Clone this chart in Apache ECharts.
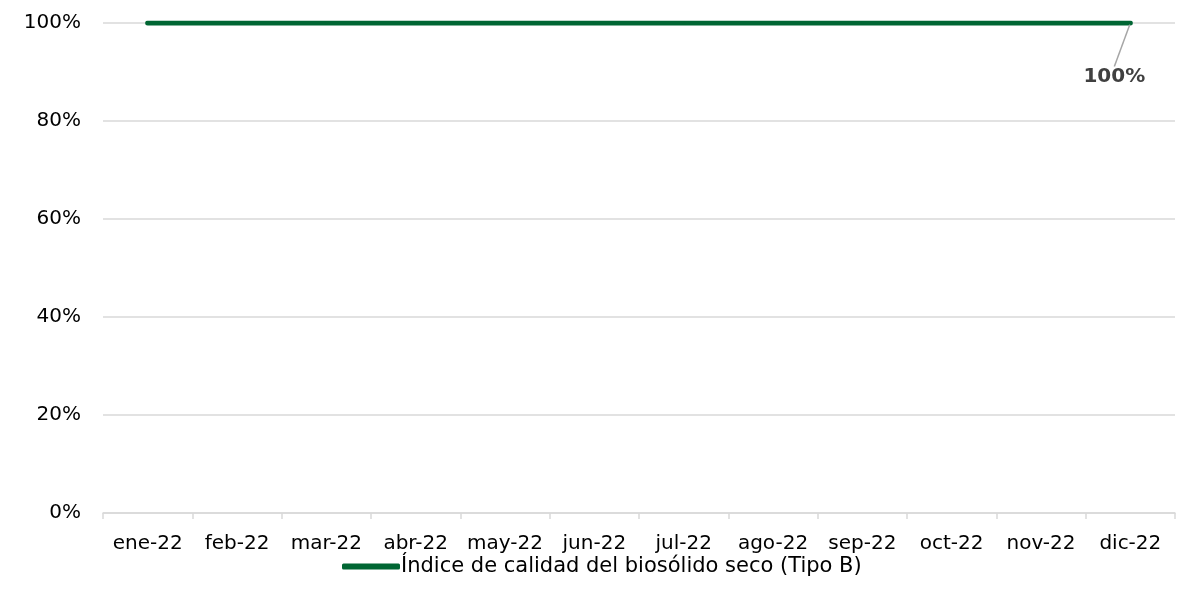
<!DOCTYPE html>
<html><head><meta charset="utf-8">
<script src="https://cdn.jsdelivr.net/npm/echarts@6/dist/echarts.min.js"></script>
<style>html,body{margin:0;padding:0;background:#fff}#c{width:1191px;height:613px}</style>
</head><body><div id="c"></div>
<script>
const categories = ['ene-22','feb-22','mar-22','abr-22','may-22','jun-22','jul-22','ago-22','sep-22','oct-22','nov-22','dic-22'];
const seriesName = 'Índice de calidad del biosólido seco (Tipo B)';
const values = [1,1,1,1,1,1,1,1,1,1,1,1];
const FONT = 'DejaVu Sans';
const chart = echarts.init(document.getElementById('c'));
const data = values.map((v,i)=> i===values.length-1 ? {
  value: v,
  label: {show:true, position:'bottom', formatter: p => Math.round(p.value*100)+'%',
          fontWeight:'bold', color:'#404040', fontSize:20, fontFamily:FONT, padding:[9,0,0,0]},
  labelLine: {show:true, lineStyle:{color:'#a6a6a6', width:1.5}}
} : v);
chart.setOption({
  animation:false,
  grid:{left:103, right:16, top:23, bottom:100, containLabel:false},
  legend:{bottom:31, left:337, itemWidth:58, itemHeight:6, itemGap:2,
    icon:'roundRect',
    textStyle:{fontFamily:FONT, fontSize:21, color:'#000', padding:[0,0,0,-4]},
    data:[seriesName]},
  xAxis:{type:'category', data:categories, boundaryGap:true,
    axisLine:{lineStyle:{color:'#d9d9d9', width:1.5}},
    axisTick:{show:true, length:6, lineStyle:{color:'#d9d9d9', width:1.5}},
    axisLabel:{fontFamily:FONT, fontSize:20, color:'#000', margin:21, interval:0}},
  yAxis:{type:'value', min:0, max:1, interval:0.2,
    axisLine:{show:false}, axisTick:{show:false},
    splitLine:{lineStyle:{color:'#d9d9d9', width:1.5}},
    axisLabel:{fontFamily:FONT, fontSize:20, color:'#000', margin:22,
      formatter: v => Math.round(v*100)+'%'}},
  series:[{name:seriesName, type:'line', data:data, symbol:'circle', symbolSize:3, showSymbol:true,
    lineStyle:{color:'#006633', width:5, cap:'round'},
    itemStyle:{color:'#006633'},
    labelLayout:{dx:-16, dy:28},
    z:3}]
});
</script></body></html>
